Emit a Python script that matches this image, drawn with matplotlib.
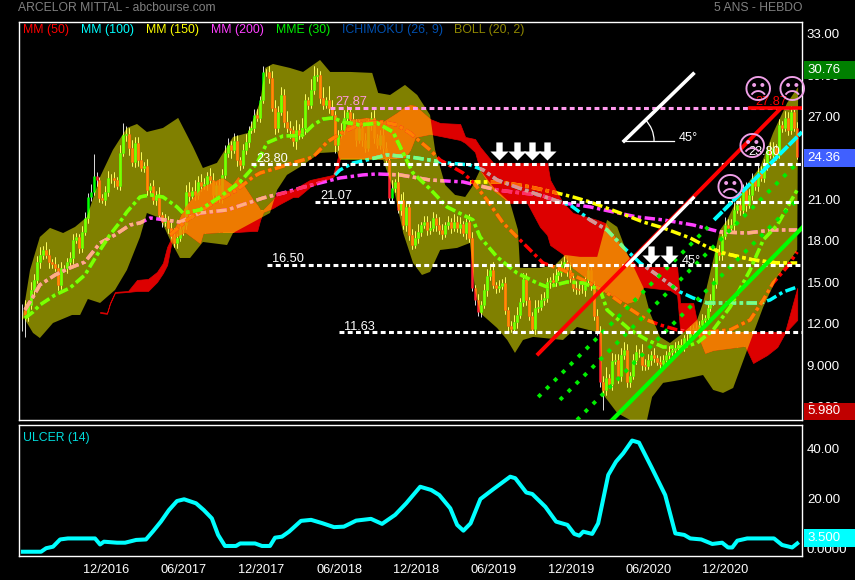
import math

import matplotlib
matplotlib.use("Agg")
import matplotlib.pyplot as plt
import matplotlib.transforms as mtrans
import numpy as np
from matplotlib.patches import Arc, Polygon, Rectangle

plt.rcParams["font.family"] = ["Liberation Sans", "DejaVu Sans"]

# weekly closes, one value per week
closes = [
    13.26, 12.89, 13.62, 14.70, 15.43, 16.73, 17.24, 17.60, 17.24, 16.73, 16.59, 16.30, 15.07, 16.30, 16.30, 16.73, 17.02, 18.33, 18.54, 17.75,
    18.91, 19.92, 21.44, 21.80, 22.96, 22.67, 21.37, 21.23, 21.80, 22.82, 22.82, 22.67, 22.24, 24.63, 25.93, 26.01, 25.00, 23.98, 25.36, 24.12,
    23.54, 23.69, 21.95, 22.24, 21.23, 21.59, 20.14, 19.63, 19.78, 19.20, 18.62, 18.11, 18.47, 19.12, 19.41, 21.80, 21.52, 21.88, 21.59, 22.53,
    22.24, 22.38, 22.96, 22.67, 21.59, 22.31, 21.37, 23.04, 24.63, 25.21, 24.85, 25.50, 24.12, 23.76, 24.85, 25.43, 26.30, 26.44, 27.38, 27.17,
    28.47, 30.50, 30.50, 30.07, 27.89, 26.44, 27.60, 28.83, 26.88, 26.44, 26.30, 25.50, 26.30, 25.93, 26.44, 28.47, 28.11, 29.20, 30.21, 30.28,
    28.62, 28.11, 28.47, 27.89, 27.38, 25.21, 25.93, 26.30, 27.17, 27.60, 27.10, 26.66, 25.57, 26.44, 25.57, 25.00, 26.66, 27.17, 25.72, 25.21, 25.93,
    25.00, 24.12, 21.37, 22.09, 22.53, 20.50, 21.23, 19.41, 20.72, 18.69, 17.97, 18.47, 18.91, 19.41, 19.63, 19.05, 19.20, 19.92, 19.41, 19.05,
    18.76, 19.41, 19.63, 19.20, 19.63, 19.20, 19.49, 18.83, 19.63, 18.47, 14.85, 13.98, 13.11, 13.62, 14.70, 15.72, 16.15, 15.07, 14.85, 14.99,
    15.21, 13.26, 12.09, 11.88, 12.38, 12.89, 13.83, 15.50, 13.98, 12.82, 11.88, 13.40, 13.47, 13.98, 14.13, 15.28, 15.43, 15.28, 15.79, 16.01,
    16.52, 16.73, 16.15, 15.57, 14.85, 14.78, 14.70, 14.70, 15.43, 16.15, 15.07, 12.82, 11.66, 8.04, 7.46, 8.33, 7.89, 9.56, 9.63, 8.47,
    9.99, 10.36, 8.04, 8.47, 9.63, 10.21, 10.21, 9.27, 9.20, 9.63, 9.99, 9.78, 9.49, 9.34, 9.60, 9.99, 10.21, 10.36, 10.50, 10.72, 10.57,
    11.23, 11.23, 11.66, 11.95, 11.81, 12.17, 12.53, 12.67, 13.40, 13.98, 15.14, 17.46, 17.24, 18.62, 19.41, 19.20, 19.41, 20.50, 20.86, 20.50,
    21.95, 20.86, 21.59, 22.67, 22.24, 23.25, 22.82, 23.76, 24.85, 24.49, 25.00, 24.49, 26.66, 26.44, 27.17, 26.30, 27.60, 26.44, 24.36,
]
wick_up = [
    .4, .7, .3, .6, .4, .4, .6, .3, .6, .4, .2, .5, .3, .4, .2, .3, .4, .4, .3, .2,
    .4, .4, .3, .6, 1.6, .3, .2, .3, .4, .5, .3, .4, .2, .6, .9, .6, .4, .6, .4, .4,
    .6, .3, .5, .2, .4, .3, .6, .2, .4, .3, .4, .6, .3, .4, .2, .5, .7, .3, .8, .4,
    .6, .4, .3, .6, .5, .2, .4, .4, .6, .5, .3, .6, .4, .2, .4, .6, .3, .5, .4, .4,
    .3, .4, .2, .4, .5, .6, .4, .6, .4, .8, .5, .3, .7, .4, .7, .4, .2, .8, .7, .5,
    .3, .8, .2, 1.0, .6, .3, .4, .5, .6, .4, .2, .4, .4, .6, .3, .5, .4, .4, .6, .3, .4,
    .5, .4, .3, .6, .2, .7, .4, .6, .4, .3, .4, .5, .6, .2, .4, .4, .5, .4, .3, .6,
    .4, .2, .4, .3, .6, .4, .5, .2, .3, .6, .4, .2, .4, .3, .4, .5, .4, .6, .2, .4,
    .3, .4, .2, .4, .5, .6, .3, .4, .4, .2, .3, .6, .5, .4, .4, .3, .2, .5, .4, .4,
    .3, .4, .4, .6, .2, .5, .4, .4, .3, .5, .4, .3, .5, .4, .4, .8, .3, .6, .4, .4,
    .5, .6, .4, .3, .4, .5, .2, .6, .4, .4, .3, .5, .2, .4, .4, .3, .4, .2, .4, .3, .4,
    .2, .3, .4, .2, .4, .3, .4, .2, .3, .4, .4, .3, .5, .4, .6, .4, .4, .6, .3, .5,
    .4, .6, .4, .5, .3, .6, .4, .4, .3, .6, .4, .3, .4, .3, .5, .4, .4, .3, .4,
]
wick_down = [
    1.5, 1.6, .4, .3, .4, .2, .4, .3, .2, .4, .3, .2, .4, .3, .2, .4, .3, .4, .2, .4,
    .3, .2, .4, .3, .2, .4, .3, .2, .4, .3, .4, .5, .2, .3, .2, .4, .5, .3, .4, .4,
    .2, .3, .4, .4, .3, .4, .2, .4, .3, .4, .2, .3, .4, .2, .4, .3, .4, .2, .4, .3,
    .4, .2, .4, .3, .5, .2, .3, .4, .2, .3, .6, .2, .4, .4, .2, .3, .4, .2, .3, .2,
    .3, .2, .3, .4, .2, .4, .3, .2, .4, .3, .6, .4, .6, .3, .2, .4, .3, .2, .3, .4,
    .4, .3, .2, .4, .3, .6, .4, .2, .3, .2, .4, .3, .4, .2, .4, .3, .2, .4, .4, .2, .3,
    .4, .3, .2, .4, .3, .2, .4, .3, .4, .4, .3, .2, .4, .3, .2, .4, .3, .2, .4, .3,
    .4, .2, .3, .4, .2, .3, .4, .2, .4, .3, .2, .4, .3, .4, .2, .4, .3, .2, .4, .3,
    .2, .3, .4, .2, .3, .4, .2, .3, .4, .3, .2, .4, .3, .2, .4, .3, .4, .2, .3, .4,
    .3, .2, .4, .3, .2, .4, .3, .2, .4, .3, .4, .3, .2, .4, 1.48, .4, .3, .4, .2, .5,
    .4, .3, .4, .4, .2, .3, .4, .4, .3, .2, .4, .3, .2, .4, .3, .2, .3, .2, .4, .3, .2,
    .3, .4, .2, .3, .2, .4, .3, .2, .3, .2, .4, .3, .4, .4, .2, .4, .3, .4, .2, .4,
    .3, .4, .2, .4, .3, .4, .2, .3, .4, .2, .3, .4, .2, .3, .2, .4, .3, .2, .2,
]

boll_up_weeks = [0, 2.7, 6, 9.4, 13.8, 17.8, 21.8, 26.2, 30.5, 35.2, 38.6, 41.9, 47.3, 52.4, 57.4, 60.7, 65.4, 70.8, 75.8, 79.9, 81.6, 84.2, 89.9, 94.3, 100, 103.4, 110.1, 117.5, 119.5, 123.5, 128.5, 132.6, 136.9, 138.6, 142, 145.3, 148.7, 151, 153.7, 158.1, 163.8, 166.4, 167.1, 173.8, 178.9, 182.2, 187.2, 193, 196.3, 199.7, 203, 208.4, 210.7, 214.1, 217.4, 221.8, 226.5, 228.5, 231.9, 234.2, 236.6, 239.9, 244.3, 247.7, 252, 256.7, 260.4]
boll_up = [12.53, 16.15, 18.54, 19.2, 18.83, 19.27, 19.99, 22.89, 24.85, 26.44, 26.73, 26.15, 26.44, 27.17, 25.07, 23.54, 23.91, 25.79, 26.08, 28.33, 30.79, 31.08, 30.79, 30.5, 31.37, 30.5, 30.5, 30.43, 28.98, 28.83, 29.56, 28.83, 27.38, 24.85, 22.31, 21.59, 21.44, 22.17, 23.4, 22.17, 21.01, 19.05, 16.3, 16.3, 16.52, 17.24, 17.1, 17.1, 19.78, 19.27, 17.38, 14.92, 13.04, 11.3, 10.86, 11.59, 12.53, 13.76, 16.88, 19.05, 19.78, 21.23, 22.67, 23.62, 26.08, 28.25, 29.41]
boll_low_weeks = [0.7, 3.7, 6, 10.4, 16.8, 19.5, 22.1, 26.2, 31.2, 35.2, 39.6, 41.9, 46.3, 49.7, 53, 56.4, 60.7, 68.8, 70.8, 83.2, 85.6, 88.9, 93.3, 100, 105.7, 106.7, 121.2, 125.2, 127.9, 131.2, 134.2, 136.9, 140.3, 146, 150.3, 152, 153.7, 159.4, 162.8, 165.4, 168.1, 171.5, 181.5, 186.2, 194, 194.6, 199.7, 204, 209.7, 211.4, 215.1, 220.8, 228.5, 231.9, 235.2, 238.6, 243.3, 248.7, 253.4, 260.1]
boll_low = [12.67, 11.59, 11.22, 12.31, 12.89, 12.89, 14.05, 13.76, 14.7, 16.15, 18.54, 20.28, 19.92, 18.33, 17.02, 17.02, 18.18, 17.96, 18.83, 20.28, 21.95, 23.04, 23.62, 24.63, 24.7, 24.12, 24.12, 21.59, 18.83, 16.66, 15.79, 16.01, 17.6, 17.75, 18.11, 14.7, 13.04, 11.95, 11.08, 10.14, 11.08, 11.3, 11.08, 12.02, 11.59, 7.24, 5.79, 5.28, 5.28, 6.95, 7.97, 8.18, 8.54, 7.46, 7.24, 7.6, 10.35, 13.47, 15.65, 17.6]

cloud_weeks = [26.2, 28.5, 29.5, 31.2, 35.6, 38.6, 42.3, 45.3, 47.3, 48.7, 50.3, 50.7, 54.7, 59.7, 60.7, 67.1, 70.5, 72.5, 77.5, 78.9, 79.9, 80.9, 84.2, 85.9, 90.9, 92.6, 96.6, 104.4, 106, 106.7, 110.1, 115.8, 121.1, 125.8, 128.5, 130.2, 131.9, 136.9, 140.3, 147, 148.7, 152, 153.7, 158.1, 163.8, 169.5, 173.8, 176.2, 177.2, 181.5, 184.9, 193, 195.6, 203, 206.4, 208.4, 217.4, 219.8, 220.8, 225.2, 226.8, 229.2, 231.9, 242.6, 245.3, 250, 253.4, 256, 260.1]
cloud_hi = [13.11, 13.04, 13.76, 14.56, 14.63, 15.43, 15.5, 16.01, 16.66, 17.82, 18.54, 18.91, 20.72, 21.95, 22.17, 22.82, 22.31, 22.89, 21.23, 20.86, 20.5, 20.5, 21.23, 21.8, 21.95, 22.17, 22.67, 23.04, 24.34, 25.72, 27.02, 27.17, 26.88, 27.53, 27.96, 28.11, 28.04, 27.09, 26.8, 26.73, 25.79, 25.64, 25.07, 23.91, 23.91, 23.91, 23.91, 23.91, 22.67, 21.01, 20.28, 19.78, 19.56, 17.24, 16.37, 16.37, 16.37, 16.37, 13.76, 13.76, 12.02, 11.81, 11.66, 11.66, 11.66, 11.66, 11.66, 11.66, 14.85]
cloud_lo = [13.04, 12.97, 13.69, 14.49, 14.56, 14.63, 14.63, 15.28, 15.93, 16.52, 18.33, 18.47, 18.91, 18.11, 18.83, 18.91, 18.91, 18.91, 18.98, 18.98, 19.78, 20.36, 20.64, 20.86, 21.44, 21.44, 22.17, 22.89, 23.4, 24.27, 24.27, 24.27, 24.27, 24.27, 24.34, 24.85, 25.79, 26.01, 25.86, 25.57, 25.36, 24.7, 23.4, 21.95, 21.01, 21.01, 19.27, 18.69, 17.96, 17.31, 16.3, 14.99, 14.56, 13.76, 13.98, 14.92, 14.7, 14.34, 11.81, 11.66, 11.44, 10.14, 10.35, 10.65, 9.41, 9.99, 10.57, 11.59, 12.53]

mm50_weeks = [49.7, 55.4, 64.1, 72.1, 77.5, 79.9, 85.6, 90.9, 97.7, 102.4, 107.7, 114.4, 121.1, 125.8, 130.2, 136.9, 140.3, 148, 151.3, 156, 161.4, 166.1, 170.5, 174.8, 181.5, 189.6, 196.3, 203, 209.7, 214.1, 219.8, 226.5, 237.6, 244.3, 248.7, 252, 256.7, 260.1]
mm50 = [18.69, 19.78, 21.01, 21.95, 22.89, 23.18, 23.54, 23.91, 24.34, 25.43, 26.15, 26.8, 26.88, 26.66, 26.08, 24.85, 24.12, 23.18, 22.53, 21.23, 19.56, 18.54, 17.6, 16.66, 16.15, 15.28, 14.49, 13.47, 12.53, 12.17, 11.81, 11.59, 11.81, 12.53, 13.98, 15.21, 16.37, 17.46]
mm100_weeks = [105, 106.7, 111.1, 114.4, 122.5, 130.2, 136.9, 142.6, 150.3, 154.7, 159.4, 170.5, 181.5, 183.9, 190.6, 196.3, 201.7, 207.4, 213.1, 220.8, 225.2, 229.9, 237.6, 247.7, 251, 255.4, 260.1]
mm100 = [23.04, 23.4, 23.91, 24.05, 24.49, 24.34, 24.12, 23.91, 23.76, 23.4, 22.67, 21.8, 21.01, 20.86, 19.78, 19.05, 17.82, 16.66, 15.79, 14.56, 14.12, 13.76, 13.76, 13.76, 13.98, 14.56, 14.92]
mm150_weeks = [150.3, 160.4, 170.5, 179.5, 184.9, 190.6, 199.7, 208.4, 215.1, 224.2, 229.9, 235.2, 245.3, 253.4, 260.1]
mm150 = [22.53, 22.53, 22.17, 21.73, 21.44, 21.08, 20.36, 19.63, 19.2, 18.47, 17.82, 17.38, 16.88, 16.66, 16.66]
mm200_weeks = [1, 3.7, 6, 11.1, 16.1, 21.1, 26.2, 31.2, 36.2, 39.6, 43, 48, 53, 59.7, 68.8, 80.9, 87.6, 93.3, 106.7, 114.4, 119.1, 126.8, 136.9, 148, 159.4, 164.8, 173.8, 181.5, 190.6, 198.3, 206.4, 215.1, 225.2, 234.2, 243.3, 252, 260.1]
mm200 = [13.26, 14.2, 15.07, 15.79, 16.3, 16.73, 18.11, 18.69, 19.41, 19.56, 19.92, 19.78, 19.63, 20.28, 20.5, 21.37, 21.73, 22.09, 22.82, 23.04, 23.11, 23.04, 22.67, 22.53, 21.95, 21.8, 21.59, 21.01, 20.72, 20.36, 19.99, 19.78, 19.41, 18.91, 18.83, 19.05, 19.05]
mme30_weeks = [1, 3.7, 6, 11.1, 16.1, 21.1, 26.2, 29.5, 32.9, 35.2, 39.6, 43, 47.3, 52, 54, 59.7, 66.4, 73.2, 78.9, 82.2, 87.6, 94, 97.7, 101, 104.4, 107.7, 113.4, 119.1, 124.5, 128.5, 131.2, 136.9, 142.6, 151.3, 153.7, 159.4, 166.1, 172.8, 176.2, 182.9, 188.3, 194, 196.3, 204, 209.7, 215.1, 221.8, 226.5, 231.9, 237.6, 244.3, 248.7, 253.4, 260.1]
mme30 = [12.67, 13.11, 13.62, 14.34, 14.85, 15.79, 17.6, 18.69, 19.63, 20.36, 21.44, 21.59, 21.44, 20.72, 20.28, 20.5, 21.44, 22.53, 23.91, 25.36, 25.86, 25.9, 26.66, 27.09, 27.17, 26.88, 26.66, 26.8, 26.15, 24.34, 23.18, 22.02, 20.72, 19.78, 18.54, 17.09, 15.93, 15.21, 14.92, 15.28, 15.21, 14.7, 13.26, 11.81, 11.08, 10.57, 10.57, 10.86, 11.81, 13.47, 16.15, 18.33, 19.41, 21.95]

ulcer_weeks = [0.3, 6.4, 8.1, 10.4, 12.8, 15.4, 24.5, 26.2, 27.5, 31.9, 34.6, 38.3, 41.6, 44, 46.6, 49.3, 52, 54.4, 58.4, 61, 63.7, 65.8, 68.1, 71.8, 73.2, 78.2, 80.5, 83.2, 84.9, 87.2, 89.6, 93.6, 97, 100.7, 104.7, 108, 112.1, 117.1, 120.8, 125.2, 128.9, 133.6, 137.3, 140, 143.7, 146, 148.1, 150.5, 153.8, 158.2, 163.8, 165.5, 169.2, 171.2, 175.6, 179.2, 183, 185.3, 187, 188.3, 191.3, 193.3, 196.7, 199.3, 201.7, 204.7, 207, 211.4, 215.8, 219.2, 222.2, 224.2, 227.9, 231.6, 234.9, 236.9, 238.3, 240, 243.3, 252.3, 255, 258.4, 260.1]
ulcer = [0.1, 0.1, 1.5, 2.1, 5.0, 5.4, 5.4, 3.0, 4.1, 3.7, 3.7, 4.8, 5.0, 8.3, 12.1, 16.7, 20.3, 21.0, 19.4, 16.7, 13.4, 6.8, 2.4, 2.4, 3.4, 3.4, 2.4, 2.4, 5.7, 6.1, 8.1, 12.4, 12.8, 11.5, 9.9, 10.1, 12.5, 13.2, 11.2, 14.8, 19.4, 26.0, 24.7, 22.7, 17.4, 10.8, 8.5, 11.4, 21.1, 25.1, 30.0, 29.4, 23.7, 23.1, 18.0, 12.1, 10.8, 7.2, 6.5, 8.1, 7.2, 11.4, 30.7, 36.0, 39.3, 44.4, 43.6, 33.3, 22.7, 7.4, 6.8, 5.4, 5.0, 3.2, 3.7, 1.8, 1.8, 4.5, 5.4, 5.4, 2.8, 1.8, 3.4]

# horizontal levels: value, first week, label
levels = [23.80, 21.07, 16.50, 11.63]
level_starts = [77, 98.3, 82.2, 106.4]
level_labels = ["23.80", "21.07", "16.50", "11.63"]
resistance = 27.87
resistance_start = 103.4

# drawn trend lines, as (week, price) ends
red_trend_weeks, red_trend = [173.2, 254.4], [10.07, 27.82]
white_trend_weeks, white_trend = [203, 225.2], [16.5, 21.37]
top_trend_weeks, top_trend = [202, 225.2], [25.5, 30.36]
green_trend_weeks, green_trend = [198, 261.7], [5.28, 19.2]
cyan_trend_weeks, cyan_trend = [232.2, 261.7], [19.78, 26.15]
dotted_weeks = [[173.2, 230.2], [180.5, 260.1], [186.2, 260.1]]
dotted_prices = [[6.95, 19.27], [6.74, 23.9], [5.28, 21.23]]

arrow_weeks = [160.1, 166.1, 171.1, 176.2, 211, 217]
arrow_prices = [24.78, 24.78, 24.78, 24.78, 17.24, 17.24]
smiley_weeks = [247, 258.1, 245, 237.3]
smiley_prices = [29.12, 29.12, 25, 22]

tick_weeks = [28.2, 54.1, 80.2, 106.4, 132.2, 158.1, 184.2, 210.1, 235.9]
tick_labels = ["12/2016", "06/2017", "12/2017", "06/2018", "12/2018", "06/2019", "12/2019", "06/2020", "12/2020"]
price_ticks = [33, 30, 27, 24, 21, 18, 15, 12, 9, 6]
price_labels = ["33.00", "30.00", "27.00", "24.00", "21.00", "18.00", "15.00", "12.00", "9.000", "6.000"]
ulcer_ticks = [40, 20, 0]
ulcer_labels = ["40.00", "20.00", "0.0000"]

W, H = 855, 580
FS = 9.2
DASHDOT = (0, (3, 1, 1, 1))
DOTS = (0, (1.6, 1.1))

fig = plt.figure(figsize=(W / 100, H / 100), dpi=100, facecolor="black")


def axes_px(left, top, right, bottom):
    return fig.add_axes([left / W, 1 - bottom / H, (right - left) / W, (bottom - top) / H], facecolor="black")


ax = axes_px(18.5, 22, 802, 420)
ax2 = axes_px(18.5, 425, 802, 556)
for a in (ax, ax2):
    a.set_xlim(-1.17, 261.7)
    for s in a.spines.values():
        s.set_color("white")
        s.set_linewidth(1)
    a.tick_params(length=0, colors="white", labelsize=FS)
    a.yaxis.tick_right()
ax.set_ylim(5.28, 34.12)
ax2.set_ylim(-1.6, 50.6)
ax.set_xticks([])
ax2.set_xticks(tick_weeks, tick_labels)
ax2.tick_params(axis="x", pad=6)
ax.set_yticks(price_ticks, price_labels)
ax2.set_yticks(ulcer_ticks, ulcer_labels)
ax.tick_params(axis="y", pad=3.5, labelsize=9.5)
ax2.tick_params(axis="y", pad=3.5, labelsize=9.5)

# the site prints its price labels a little above the true level
lift = mtrans.ScaledTranslation(0, 3.5 / 100, fig.dpi_scale_trans)
for a in (ax, ax2):
    for t in a.get_yticklabels():
        t.set_transform(t.get_transform() + lift)

# bollinger band, everything drawn over it changes colour
boll_x = np.r_[boll_up_weeks, boll_low_weeks[::-1]]
boll_y = np.r_[boll_up, boll_low[::-1]]
band = Polygon(np.c_[boll_x, boll_y], closed=True, facecolor="#808000", edgecolor="none", zorder=1)
ax.add_patch(band)


def clip_band(artist):
    artist.set_clip_path(band)
    return artist


# ichimoku cloud, red on black, orange over the band and over the candles there
cloud = ax.fill_between(cloud_weeks, cloud_hi, cloud_lo, color="#dd0000", linewidth=0.5, zorder=2)
cloud_path = cloud.get_paths()[0]
clip_band(ax.fill_between(cloud_weeks, cloud_hi, cloud_lo, color="#f08c00", linewidth=0.5, alpha=0.88, zorder=3.5))

# candles
closes = np.array(closes)
weeks = np.arange(len(closes))
opens = np.r_[closes[0], closes[:-1]]
tops = np.maximum(opens, closes)
bottoms = np.minimum(opens, closes)
highs = tops + np.array(wick_up)
lows = bottoms - np.array(wick_down)
up = closes >= opens

ax.vlines(weeks, lows, highs, colors="white", linewidth=0.6, zorder=3)
clip_band(ax.vlines(weeks, lows, highs, colors="#ffff40", linewidth=0.6, zorder=3.1))
ax.vlines(weeks[up], bottoms[up], tops[up], colors="#00ff00", linewidth=1.8, zorder=3.2)
ax.vlines(weeks[~up], bottoms[~up], tops[~up], colors="#ff2030", linewidth=1.8, zorder=3.2)
clip_band(ax.vlines(weeks[up], bottoms[up], tops[up], colors="#80ff00", linewidth=1.8, zorder=3.3))
clip_band(ax.vlines(weeks[~up], bottoms[~up], tops[~up], colors="#ff9000", linewidth=1.8, zorder=3.3))

# moving averages: colour on black, colour over the red cloud, colour over the band
averages = [
    (mm200_weeks, mm200, "#ff40ff", "#ff3060", "#ffb080"),
    (mm150_weeks, mm150, "#ffff00", "#ff6000", "#ffff00"),
    (mm100_weeks, mm100, "#00ffff", "#e09090", "#80ff80"),
    (mm50_weeks, mm50, "#ff0000", "#ff4040", "#ff8000"),
    (mme30_weeks, mme30, "#00ff00", "#80ff00", "#80ff00"),
]
for xs, ys, color, on_cloud, over in averages:
    style = dict(linewidth=2.5, linestyle=DASHDOT, dash_capstyle="butt")
    ax.plot(xs, ys, color=color, zorder=4, **style)
    ax.plot(xs, ys, color=on_cloud, zorder=4.05, clip_path=(cloud_path, ax.transData), **style)
    clip_band(ax.plot(xs, ys, color=over, zorder=4.1, **style)[0])

# levels
for price, start, label in zip(levels, level_starts, level_labels):
    ax.plot([start, 261.7], [price, price], color="white", linewidth=2.2, linestyle=DOTS, dash_capstyle="butt", zorder=5)
    ax.text(start + 1.7, price + 0.42, label, color="white", fontsize=FS, va="center", zorder=6)
ax.plot([resistance_start, 261.7], [resistance, resistance], color="#ff99ee", linewidth=2.2, linestyle=DOTS, dash_capstyle="butt", zorder=5)
ax.text(105.2, 28.3, "27.87", color="#ff99dd", fontsize=FS, va="center", zorder=6)

# hand drawn trend lines
ax.plot(red_trend_weeks, red_trend, color="#ff0000", linewidth=2.8, zorder=5)
ax.plot(white_trend_weeks, white_trend, color="white", linewidth=2.4, zorder=5.1)
ax.plot(top_trend_weeks, top_trend, color="white", linewidth=2.6, zorder=5)
ax.plot(green_trend_weeks, green_trend, color="#00ff00", linewidth=3, zorder=5)
ax.plot(cyan_trend_weeks, cyan_trend, color="#00ffff", linewidth=2.8, linestyle=(0, (3, 0.4)), zorder=5)
for xs, ys in zip(dotted_weeks, dotted_prices):
    ax.plot(xs, ys, color="#00ee00", linewidth=2.8, linestyle=(0, (1, 1.9)), dash_capstyle="butt", zorder=4.5)

ax.plot([244.3, 261.7], [resistance, resistance], color="#ff0000", linewidth=2.6, zorder=5.2)
ax.text(246, 28.3, "27.87", color="#ff0000", fontsize=FS, va="center", zorder=5.1)
ax.text(243.6, 24.72, "23.80", color="white", fontsize=FS, va="center", zorder=6)

# the 45 degree corner
ax.plot([202, 218.8], [25.5, 25.5], color="white", linewidth=0.9, zorder=5)
arc_w, arc_h = 2 * 30 / 2.98, 2 * 30 / 13.8
ax.add_patch(Arc((202, 25.5), arc_w, arc_h, theta1=0, theta2=math.degrees(math.atan(arc_h / arc_w)), color="white", linewidth=0.9, zorder=5))
ax.text(220.5, 25.75, "45°", color="white", fontsize=FS, va="center", zorder=6)
ax.text(221.5, 16.8, "45°", color="white", fontsize=FS, va="center", zorder=6)

arrow = [(-0.35, 1), (0.35, 1), (0.35, 0), (1, 0), (0, -1), (-1, 0), (-0.35, 0)]
ax.scatter(arrow_weeks, arrow_prices, marker=arrow, s=170, color="white", linewidths=0, zorder=6)
for w, p in zip(smiley_weeks, smiley_prices):
    ax.text(w, p, "☹", color="#f0a0e8", fontsize=21, family="DejaVu Sans", ha="center", va="center", zorder=6)

# ulcer panel
ax2.plot(ulcer_weeks, ulcer, color="#00ffff", linewidth=2.9, solid_joinstyle="round")
ax2.text(0.006, 0.9, "ULCER (14)", transform=ax2.transAxes, color="#00dddd", fontsize=8.8, va="center")

# header and legend
fig.text(18 / W, 1 - 8 / H, "ARCELOR MITTAL - abcbourse.com", color="#808080", fontsize=8.7, va="center")
fig.text(802 / W, 1 - 8 / H, "5 ANS - HEBDO", color="#808080", fontsize=8.7, va="center", ha="right")
legend = [
    ("MM (50)", 23, "#ff0000"), ("MM (100)", 81, "#00ffff"), ("MM (150)", 146, "#ffff00"),
    ("MM (200)", 211, "#ff40ff"), ("MME (30)", 276, "#00ee00"),
    ("ICHIMOKU (26, 9)", 342, "#0050b0"), ("BOLL (20, 2)", 454, "#908800"),
]
for label, x, color in legend:
    fig.text(x / W, 1 - 29.5 / H, label, color=color, fontsize=8.9, va="center")

# current value boxes on the right
boxes = [
    ("30.76", 61, 79, "#008000"), ("24.36", 149, 167, "#4060ff"),
    ("5.980", 403, 420, "#c00000"), ("3.500", 529, 547, "#00ffff"),
]
for label, top, bottom, color in boxes:
    fig.add_artist(Rectangle((804 / W, 1 - bottom / H), 51 / W, (bottom - top) / H, transform=fig.transFigure, facecolor=color, edgecolor="none"))
    fig.text(807 / W, 1 - (top + bottom) / 2 / H, label, color="white", fontsize=9.5, va="center")

fig.savefig("out.png", dpi=100, facecolor="black")
